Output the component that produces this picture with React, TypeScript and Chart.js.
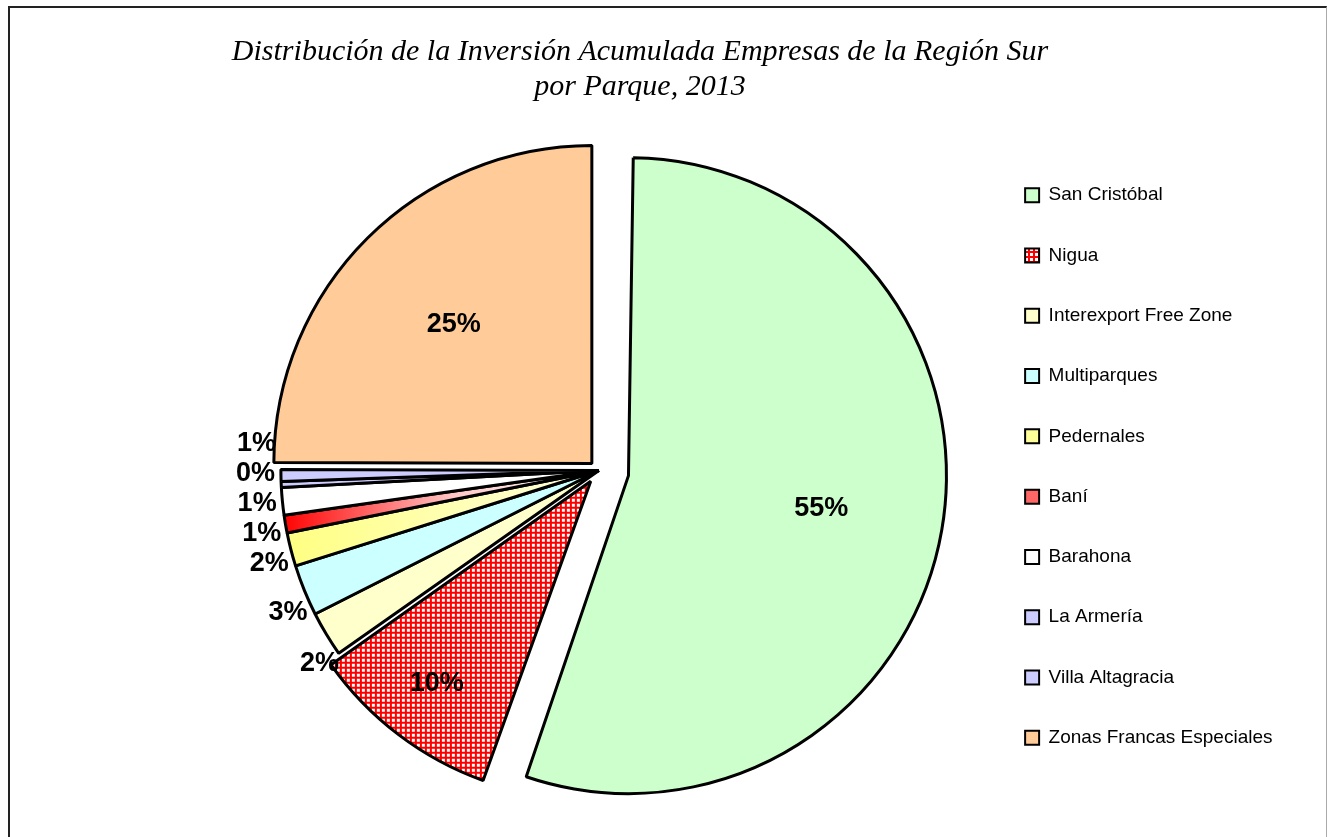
import React, { useEffect, useRef } from 'react';
import { Chart, registerables } from 'chart.js';

Chart.register(...registerables);

const TITLE_LINES = [
  'Distribución de la Inversión Acumulada Empresas de la Región Sur',
  'por Parque, 2013',
];

const PARKS = [
  'San Cristóbal',
  'Nigua',
  'Interexport Free Zone',
  'Multiparques',
  'Pedernales',
  'Baní',
  'Barahona',
  'La Armería',
  'Villa Altagracia',
  'Zonas Francas Especiales',
];

// share of accumulated investment (%)
const SHARES = [55.45, 9.8, 2.3, 2.6, 1.7, 0.9, 1.4, 0.3, 0.6, 24.95];

// styling (kept apart from the data)
const SOLID_COLORS = [
  '#CCFFCC', '#FF0000', '#FFFFCC', '#CCFFFF', '#FFFF99',
  '#FF6666', '#FFFFFF', '#CCCCFF', '#CCCCFF', '#FFCC99',
];
const GRADIENTS: Record<number, [number, string][]> = {
  4: [[0, '#FFFF80'], [1, '#FFFFE0']],
  5: [[0, '#FF0000'], [0.55, '#FFC8C8'], [1, '#FFFFFF']],
};
const PATTERNED = 1;
// Chart.js arc "offset" values (exploded slices; the slice moves offset/4 px)
const EXPLODE = [120, 54, 0, 0, 0, 0, 0, 0, 0, 40];
const PIE_RADIUS = 318;
const LEGEND_SHIFT_Y = 4;
const LEGEND_SHIFT_X = 4;

const FONT_SANS = '"Liberation Sans", Arial, Helvetica, sans-serif';
const FONT_SERIF = '"Liberation Serif", "Times New Roman", serif';

function makePattern(): CanvasPattern | string {
  const pc = document.createElement('canvas');
  pc.width = 5;
  pc.height = 5;
  const pctx = pc.getContext('2d');
  if (!pctx) return '#FF0000';
  pctx.fillStyle = '#FF0000';
  pctx.fillRect(0, 0, 5, 5);
  pctx.fillStyle = '#FFFFFF';
  pctx.fillRect(0, 0, 3, 3);
  return pctx.createPattern(pc, 'repeat') || '#FF0000';
}

// Chart.js also enlarges an exploded arc; keep every slice at the same radius
const explodeFixPlugin = {
  id: 'explodeFix',
  beforeDatasetsDraw(chart: any) {
    chart.getDatasetMeta(0).data.forEach((arc: any) => {
      const off = arc.options.offset || 0;
      arc.$baseR = arc.outerRadius;
      if (!off) return;
      const circ = arc.endAngle - arc.startAngle;
      const fix = 1 - Math.sin(Math.min(Math.PI, circ));
      arc.outerRadius = arc.$baseR - (off / 4) * fix;
    });
  },
  afterDatasetsDraw(chart: any) {
    chart.getDatasetMeta(0).data.forEach((arc: any) => {
      if (arc.$baseR !== undefined) arc.outerRadius = arc.$baseR;
    });
  },
};

const labelPlugin = {
  id: 'pctLabels',
  afterDatasetsDraw(chart: any) {
    const meta = chart.getDatasetMeta(0);
    const data = chart.data.datasets[0].data as number[];
    const total = data.reduce((a: number, b: number) => a + b, 0);
    const ctx = chart.ctx as CanvasRenderingContext2D;
    ctx.save();
    ctx.font = `bold 27px ${FONT_SANS}`;
    ctx.fillStyle = '#000';
    ctx.textBaseline = 'middle';
    const outs: any[] = [];
    meta.data.forEach((arc: any, i: number) => {
      const p = arc.getProps(['x', 'y', 'startAngle', 'endAngle', 'outerRadius'], true);
      const frac = data[i] / total;
      const text = Math.round(frac * 100) + '%';
      const mid = (p.startAngle + p.endAngle) / 2;
      const shift = (arc.options.offset || 0) / 4;
      if (frac >= 0.05) {
        const d = p.outerRadius * (frac < 0.15 ? 0.8 : 0.615) + shift;
        ctx.textAlign = 'center';
        ctx.fillText(text, p.x + Math.cos(mid) * d, p.y + Math.sin(mid) * d);
      } else {
        outs.push({
          text, mid, cx: p.x, cy: p.y, R: p.outerRadius,
          y: p.y + Math.sin(mid) * (p.outerRadius + 58),
        });
      }
    });
    // stack crowded labels upwards, starting from the lowest one
    outs.sort((a, b) => a.y - b.y);
    const MIN_GAP = 30;
    for (let k = outs.length - 1; k > 0; k--) {
      if (outs[k].y - outs[k - 1].y < MIN_GAP) outs[k - 1].y = outs[k].y - MIN_GAP;
    }
    outs.forEach((o) => {
      const dy = o.y - o.cy;
      const rr = o.R + 6;
      const dx = Math.sqrt(Math.max(0, rr * rr - dy * dy));
      const left = Math.cos(o.mid) < 0;
      ctx.textAlign = left ? 'right' : 'left';
      ctx.fillText(o.text, left ? o.cx - dx : o.cx + dx, o.y);
    });
    ctx.restore();
  },
};

const layoutTweakPlugin = {
  id: 'layoutTweak',
  afterLayout(chart: any) {
    const tb = chart.titleBlock;
    if (tb) {
      tb.left = 0;
      tb.right = chart.width - 20;
    }
    const lg = chart.legend;
    if (lg) {
      lg.top -= LEGEND_SHIFT_Y;
      lg.bottom -= LEGEND_SHIFT_Y;
      lg.left -= LEGEND_SHIFT_X;
      lg.right -= LEGEND_SHIFT_X;
    }
  },
};

export default function App() {
  const ref = useRef<HTMLCanvasElement>(null);

  useEffect(() => {
    if (!ref.current) return;
    const pattern = makePattern();

    const fillFor = (c: any) => {
      const i = c.dataIndex;
      if (i === PATTERNED) return pattern;
      const stops = GRADIENTS[i];
      const area = c.chart.chartArea;
      if (stops && area) {
        const cx = (area.left + area.right) / 2;
        const g = c.chart.ctx.createLinearGradient(cx - PIE_RADIUS, 0, cx, 0);
        stops.forEach(([pos, col]) => g.addColorStop(pos, col));
        return g;
      }
      return SOLID_COLORS[i];
    };

    const chart = new Chart(ref.current, {
      type: 'pie',
      data: {
        labels: PARKS,
        datasets: [
          {
            data: SHARES,
            backgroundColor: fillFor as any,
            borderColor: '#000000',
            borderWidth: 3,
            offset: EXPLODE,
            hoverOffset: 0,
            radius: PIE_RADIUS,
          } as any,
        ],
      },
      options: {
        responsive: false,
        animation: false,
        devicePixelRatio: 1,
        events: [],
        layout: { padding: { left: 200, right: 3.5, top: 0, bottom: 0 } },
        plugins: {
          title: {
            display: true,
            text: TITLE_LINES,
            color: '#000',
            font: { family: FONT_SERIF, size: 30, style: 'italic', weight: 'normal', lineHeight: 1.15 },
            padding: { top: 27, bottom: 0 },
          },
          legend: {
            position: 'right',
            align: 'center',
            fullSize: false,
            labels: {
              color: '#000',
              font: { family: FONT_SANS, size: 19 },
              boxWidth: 14,
              boxHeight: 14,
              padding: 41.3,
              generateLabels: (ch: any) => {
                const items = Chart.overrides.pie.plugins.legend.labels.generateLabels(ch);
                return items.map((it: any, i: number) => ({
                  ...it,
                  fillStyle: i === PATTERNED ? pattern : SOLID_COLORS[i],
                  strokeStyle: '#000',
                  lineWidth: 2,
                }));
              },
            },
          },
          tooltip: { enabled: false },
        },
      },
      plugins: [explodeFixPlugin, labelPlugin, layoutTweakPlugin],
    });

    return () => chart.destroy();
  }, []);

  return (
    <div
      style={{
        position: 'absolute',
        left: 8,
        top: 6,
        width: 1319,
        height: 831,
        boxSizing: 'border-box',
        borderTop: '2px solid #222',
        borderLeft: '2px solid #222',
        borderRight: '1px solid #aaa',
        overflow: 'hidden',
        background: '#fff',
      }}
    >
      <canvas ref={ref} width={1280} height={829} style={{ display: 'block', width: 1280, height: 829 }} />
    </div>
  );
}
